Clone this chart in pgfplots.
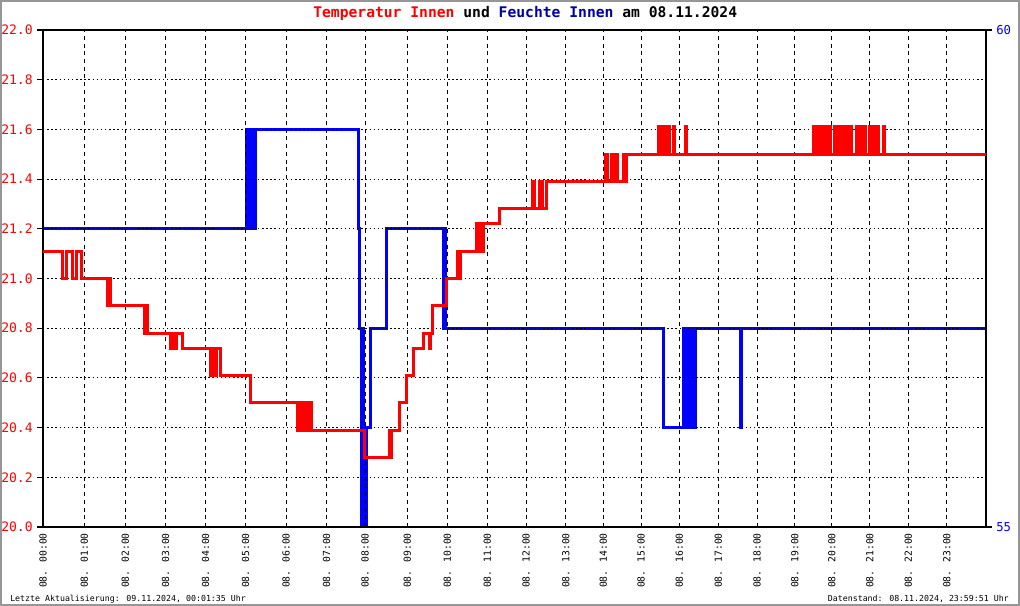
\documentclass[border=0pt]{standalone}
\usepackage{pgfplots}
\pgfplotsset{compat=1.18}
\usepackage{fontspec}
\newfontfamily\dvm{DejaVu Sans Mono}
\definecolor{titleblue}{RGB}{0,0,160}
\definecolor{framegray}{RGB}{150,150,150}

\begin{document}
\begin{tikzpicture}
\useasboundingbox (0,0) rectangle (765pt,454.5pt);
\fill[white] (0,0) rectangle (765pt,454.5pt);
\draw[framegray, line width=1.4pt] (0.7pt,0.7pt) rectangle (764.3pt,453.8pt);

% Humidity axis (right)
\begin{axis}[
  at={(32.25pt,59.25pt)}, anchor=south west,
  width=707.25pt, height=372.75pt, scale only axis,
  xmin=0, xmax=943, ymin=55, ymax=60,
  axis x line=none, axis y line*=right,
  axis line style={black, line width=1.1pt},
  ytick={55,60}, yticklabels={55,60},
  tick align=outside, major tick length=4.5pt,
  ytick style={black, line width=0.8pt},
  yticklabel style={text=blue, font=\dvm\fontsize{9.2}{10}\selectfont, inner sep=0pt, xshift=3pt},
  xtick=\empty,
]
\addplot[blue, line width=2.25pt, line join=miter] coordinates {
(0,58)(203,58)(203,59)(204,59)(204,58)(205,58)(205,59)(206,59)(206,58)(208,58)(208,59)(211,59)(211,58)(212,58)(212,59)
(315,59)(315,58)(316,58)(316,57)(318,57)(318,55)(319,55)(319,57)(320,57)(320,55)(321,55)(321,56)(322,56)(322,55)(323,55)(323,56)
(327,56)(327,57)(343,57)(343,58)(400,58)(400,57)(401,57)(401,58)(402,58)(402,57)
(620,57)(620,56)(640,56)(640,57)(641,57)(641,56)(642,56)(642,57)(643,57)(643,56)(644,56)(644,57)(645,57)(645,56)(646,56)(646,57)(647,57)(647,56)(648,56)(648,57)(650,57)(650,56)(652,56)(652,57)
(697,57)(697,56)(698,56)(698,57)(943,57)
};
\end{axis}

% Temperature axis (left)
\begin{axis}[
  at={(32.25pt,59.25pt)}, anchor=south west,
  width=707.25pt, height=372.75pt, scale only axis,
  xmin=0, xmax=943, ymin=20, ymax=22,
  axis line style={black, line width=1.1pt},
  ytick={20,20.2,20.4,20.6,20.8,21,21.2,21.4,21.6,21.8,22},
  yticklabels={20.0,20.2,20.4,20.6,20.8,21.0,21.2,21.4,21.6,21.8,22.0},
  ytick pos=left,
  tick align=outside, major tick length=4.5pt,
  ytick style={black, line width=0.8pt},
  yticklabel style={text=red, font=\dvm\fontsize{9.8}{10}\selectfont, inner sep=0pt, xshift=-3pt},
  xtick={0,41.3,82.3,122.7,162.7,202.7,243,283.7,322,364.3,404.3,444.3,483,522.7,560.3,598,636.3,675.3,714,751.7,788.7,826.7,865.3,903.7},
  xticklabels={08. 00:00,08. 01:00,08. 02:00,08. 03:00,08. 04:00,08. 05:00,08. 06:00,08. 07:00,08. 08:00,08. 09:00,08. 10:00,08. 11:00,08. 12:00,08. 13:00,08. 14:00,08. 15:00,08. 16:00,08. 17:00,08. 18:00,08. 19:00,08. 20:00,08. 21:00,08. 22:00,08. 23:00},
  xtick pos=bottom,
  xtick style={draw=none},
  xticklabel style={rotate=90, anchor=east, font=\dvm\fontsize{7.3}{8}\selectfont, inner sep=0pt},
  xmajorgrids, ymajorgrids,
  x grid style={black, line width=0.75pt, dash pattern=on 3pt off 2.8pt},
  y grid style={black, line width=0.75pt, dash pattern=on 1.1pt off 2pt},
]
\addplot[red, line width=2.25pt, line join=miter] coordinates {
(0,21.11)(19.5,21.11)(19.5,21.0)(23.5,21.0)(23.5,21.11)(29,21.11)(29,21.0)(33.5,21.0)(33.5,21.11)(38,21.11)(38,21.0)
(64,21.0)(64,20.89)(66,20.89)(66,21.0)(67,21.0)(67,20.89)
(101,20.89)(101,20.78)(103,20.78)(103,20.89)(104,20.89)(104,20.78)
(127,20.78)(127,20.72)(129,20.72)(129,20.78)(130,20.78)(130,20.72)(133,20.72)(133,20.78)
(139,20.78)(139,20.72)
(167,20.72)(167,20.61)(169,20.61)(169,20.72)(172,20.72)(172,20.61)(173,20.61)(173,20.72)(177,20.72)(177,20.61)
(207,20.61)(207,20.5)
(254,20.5)(254,20.39)(256,20.39)(256,20.5)(259,20.5)(259,20.39)(262,20.39)(262,20.5)(265,20.5)(265,20.39)(266,20.39)(266,20.5)(268,20.5)(268,20.39)
(321,20.39)(321,20.28)(323,20.28)
(346,20.28)(346,20.39)(347,20.39)(347,20.28)(348,20.28)(348,20.39)
(356,20.39)(356,20.5)(363,20.5)(363,20.61)(370,20.61)(370,20.72)(380,20.72)(380,20.78)(386,20.78)(386,20.72)(387,20.72)(387,20.78)(389,20.78)(389,20.89)
(403,20.89)(403,21.0)(414,21.0)(414,21.11)(416,21.11)(416,21.0)(417,21.0)(417,21.11)
(433,21.11)(433,21.22)(435,21.22)(435,21.11)(437,21.11)(437,21.22)(438,21.22)(438,21.11)(440,21.11)(440,21.22)
(456,21.22)(456,21.28)
(489,21.28)(489,21.39)(491,21.39)(491,21.28)(496,21.28)(496,21.39)(499,21.39)(499,21.28)(503,21.28)(503,21.39)
(562,21.39)(562,21.5)(564,21.5)(564,21.39)(568,21.39)(568,21.5)(570,21.5)(570,21.39)(573,21.39)(573,21.5)(574,21.5)(574,21.39)
(580,21.39)(580,21.5)(581,21.5)(581,21.39)(583,21.39)(583,21.5)
(615,21.5)(615,21.61)(617,21.61)(617,21.5)(618,21.5)(618,21.61)(620,21.61)(620,21.5)(622,21.5)(622,21.61)(623,21.61)(623,21.5)(625,21.5)(625,21.61)(626,21.61)(626,21.5)
(630,21.5)(630,21.61)(631,21.61)(631,21.5)
(642,21.5)(642,21.61)(643,21.61)(643,21.5)
(770,21.5)(770,21.61)(772,21.61)(772,21.5)(773,21.5)(773,21.61)(775,21.61)(775,21.5)(776,21.5)(776,21.61)(778,21.61)(778,21.5)(779,21.5)(779,21.61)(781,21.61)(781,21.5)(782,21.5)(782,21.61)(784,21.61)(784,21.5)(785,21.5)(785,21.61)(787,21.61)(787,21.5)
(791,21.5)(791,21.61)(792,21.61)(792,21.5)(795,21.5)(795,21.61)(796,21.61)(796,21.5)(799,21.5)(799,21.61)(800,21.61)(800,21.5)(803,21.5)(803,21.61)(804,21.61)(804,21.5)(807,21.5)(807,21.61)(808,21.61)(808,21.5)
(813,21.5)(813,21.61)(814,21.61)(814,21.5)(817,21.5)(817,21.61)(818,21.61)(818,21.5)(821,21.5)(821,21.61)(822,21.61)(822,21.5)
(826,21.5)(826,21.61)(827,21.61)(827,21.5)(830,21.5)(830,21.61)(831,21.61)(831,21.5)(834,21.5)(834,21.61)(835,21.61)(835,21.5)
(840,21.5)(840,21.61)(841,21.61)(841,21.5)
(943,21.5)
};
\end{axis}

% Title and footers
\node[font=\dvm\bfseries\fontsize{11}{12}\selectfont, inner sep=0pt] at (393.9pt,444.5pt)
  {\textcolor{red}{Temperatur Innen} und \textcolor{titleblue}{Feuchte Innen} am 08.11.2024};
\node[font=\dvm\fontsize{6.2}{7}\selectfont, anchor=west, inner sep=0pt] at (7.5pt,5.25pt)
  {Letzte Aktualisierung: 09.11.2024, 00:01:35 Uhr};
\node[font=\dvm\fontsize{6.2}{7}\selectfont, anchor=east, inner sep=0pt] at (756.75pt,5.25pt)
  {Datenstand: 08.11.2024, 23:59:51 Uhr};
\end{tikzpicture}
\end{document}
